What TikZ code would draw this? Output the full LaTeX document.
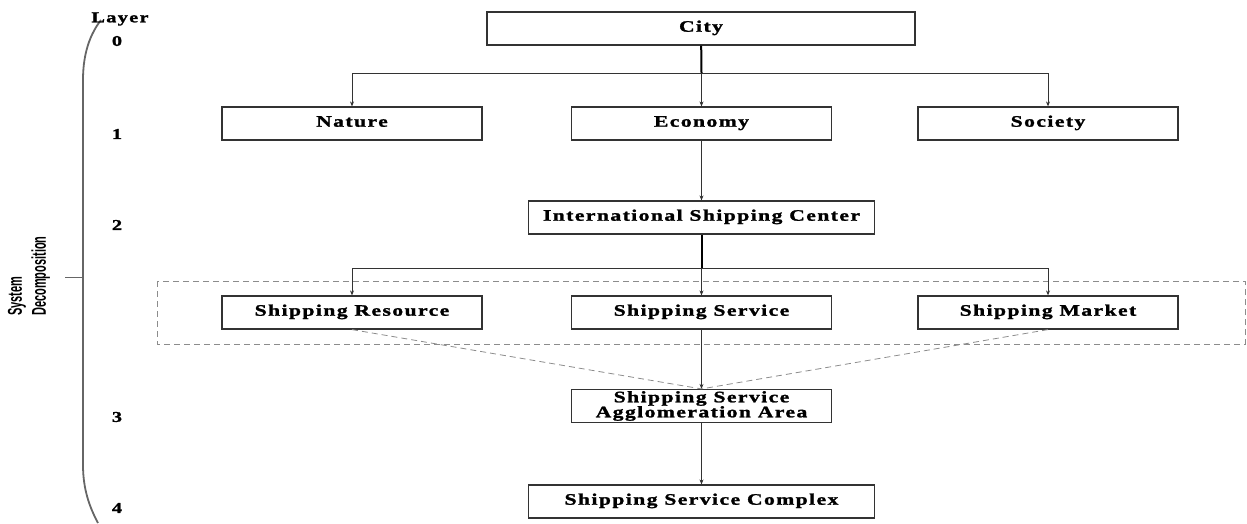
\documentclass[tikz,border=0pt]{standalone}
\usepackage{fontspec}
\setmainfont{Liberation Serif}
\newfontfamily\boxfont[FakeStretch=1.35,LetterSpace=9,FakeBold=1.5]{Liberation Serif Bold}
\newfontfamily\sidefont[FakeStretch=0.55]{Liberation Sans Bold}
\usetikzlibrary{arrows.meta}

\begin{document}
\begin{tikzpicture}[x=1pt,y=-1pt,
  level/.style={draw=black!80,line width=1.2pt,fill=white,minimum width=260pt,minimum height=33pt,inner sep=0pt,font=\boxfont\fontsize{16}{16}\selectfont,align=center},
  wide/.style={level,minimum width=346pt},
  link/.style={draw=black!80,line width=1pt,-{Stealth[length=5pt,width=4pt]}},
  trunk/.style={draw=black,line width=2pt},
  guide/.style={draw=black!45,dashed,line width=0.8pt,dash pattern=on 6pt off 4pt},
  layernum/.style={font=\boxfont\fontsize{15}{15}\selectfont,inner sep=0pt}]
\useasboundingbox (0,0) rectangle (1247,523);
%cadre pointille
\draw[guide] (157,281) rectangle (1245,344);
%niveaux
\node[level,minimum width=428pt] (city) at (701,28.5) {\strut City};
\node[level] (nature) at (352,123.5) {\strut Nature};
\node[level] (economy) at (701.5,123.5) {\strut Economy};
\node[level] (society) at (1048,123.5) {\strut Society};
\node[wide] (isc) at (701.5,217.5) {\strut International Shipping Center};
\node[level] (resource) at (352,312.5) {\strut Shipping Resource};
\node[level] (service) at (701.5,312.5) {\strut Shipping Service};
\node[level] (market) at (1048,312.5) {\strut Shipping Market};
\node[level] (agglo) at (701.5,406) {Shipping Service\\[-1pt]Agglomeration Area};
\node[wide] (complex) at (701.5,501.5) {\strut Shipping Service Complex};
%embranchements
\coordinate (split1) at (701.5,73);
\coordinate (split2) at (701.5,268);
\draw[trunk] (city) -- (split1);
\draw[link] (split1) -| (nature.north);
\draw[link] (split1) -- (economy.north);
\draw[link] (split1) -| (society.north);
\draw[link] (economy) -- (isc);
\draw[trunk] (isc) -- (split2);
\draw[link] (split2) -| (resource.north);
\draw[link] (split2) -- (service.north);
\draw[link] (split2) -| (market.north);
\draw[link] (service) -- (agglo);
\draw[guide] (resource.south) -- (agglo.north);
\draw[guide] (market.south) -- (agglo.north);
\draw[link] (agglo) -- (complex);
%accolade
\coordinate (bracetop) at (101,20);
\coordinate (bracebot) at (98,523);
\coordinate (bracemid) at (83,277);
\draw[black!60,line width=1.8pt] (bracetop) .. controls (87,38) and (83,60) .. (83,80) -- (83,465) .. controls (83,490) and (90,508) .. (bracebot);
\draw[black!60,line width=1pt] (65,277) -- (bracemid);
\node[font=\sidefont\fontsize{20}{24}\selectfont,rotate=90,align=left,anchor=center] (sysdec) at (29,276) {System\\Decomposition};
%couches
\node[layernum] (layer) at (120,19) {Layer};
\node[layernum] (l0) at (117,41) {0};
\node[layernum] (l1) at (117,134) {1};
\node[layernum] (l2) at (117,225) {2};
\node[layernum] (l3) at (117,417) {3};
\node[layernum] (l4) at (117,508) {4};
\end{tikzpicture}
\end{document}
